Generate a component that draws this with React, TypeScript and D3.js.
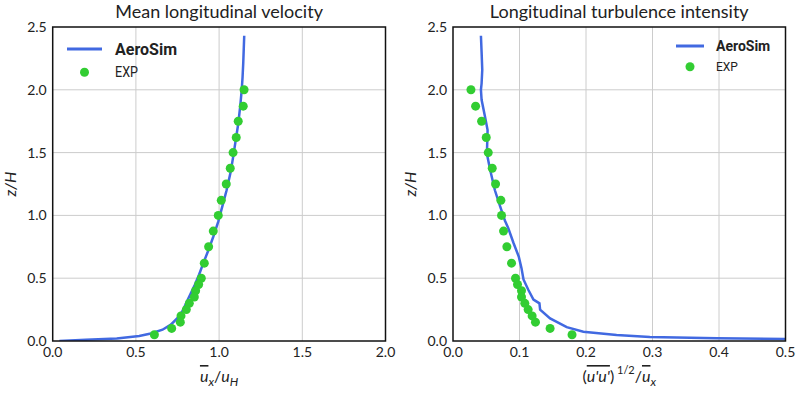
import React from 'react';
import * as d3 from 'd3';

// experimental heights (shared by both panels)
const expZ = [2.0, 1.87, 1.75, 1.62, 1.5, 1.375, 1.25, 1.12, 1.0, 0.875, 0.75, 0.62, 0.5, 0.45, 0.4, 0.35, 0.3, 0.25, 0.2, 0.15, 0.1, 0.05];
const expU = [1.15, 1.145, 1.115, 1.103, 1.084, 1.067, 1.043, 1.013, 0.995, 0.965, 0.937, 0.911, 0.893, 0.877, 0.859, 0.851, 0.821, 0.803, 0.771, 0.767, 0.715, 0.611];
const expI = [0.027, 0.034, 0.043, 0.05, 0.053, 0.059, 0.064, 0.072, 0.073, 0.076, 0.081, 0.088, 0.094, 0.097, 0.103, 0.103, 0.108, 0.113, 0.119, 0.124, 0.146, 0.179];

// AeroSim profiles
const simUz = [0, 0.01, 0.02, 0.04, 0.06, 0.09, 0.13, 0.19, 0.25, 0.31, 0.38, 0.45, 0.53, 0.62, 0.72, 0.83, 0.95, 1.0, 1.1, 1.2, 1.35, 1.47, 1.6, 1.73, 1.87, 2.0, 2.1, 2.21, 2.32, 2.43];
const simU = [0.04, 0.2, 0.385, 0.52, 0.59, 0.66, 0.71, 0.755, 0.785, 0.805, 0.83, 0.855, 0.88, 0.905, 0.935, 0.965, 0.995, 1.005, 1.025, 1.045, 1.07, 1.085, 1.1, 1.115, 1.127, 1.136, 1.141, 1.145, 1.148, 1.151];
const simIz = [2.43, 2.3, 2.16, 2.05, 2.0, 1.92, 1.79, 1.68, 1.49, 1.36, 1.2, 1.07, 0.96, 0.9, 0.78, 0.67, 0.58, 0.49, 0.41, 0.33, 0.3, 0.25, 0.18, 0.11, 0.074, 0.048, 0.032, 0.021, 0.016];
const simI = [0.042, 0.043, 0.044, 0.043, 0.042, 0.043, 0.048, 0.052, 0.051, 0.056, 0.063, 0.071, 0.078, 0.083, 0.091, 0.099, 0.103, 0.106, 0.113, 0.121, 0.13, 0.131, 0.146, 0.171, 0.196, 0.246, 0.296, 0.397, 0.5];

const yTicks = [0, 0.5, 1.0, 1.5, 2.0, 2.5];
const uTicks = [0, 0.5, 1.0, 1.5, 2.0];
const iTicks = [0, 0.1, 0.2, 0.3, 0.4, 0.5];

const FONT = 'Lato, "Open Sans", sans-serif';
const LEGEND_FONT = 'Roboto, "Liberation Sans", sans-serif';
const BLUE = '#4169E1';
const GREEN = '#32CD32';

type PanelProps = {
  x0: number;
  x1: number;
  title: string;
  xMax: number;
  xTicks: number[];
  simX: number[];
  simZ: number[];
  expX: number[];
  xLabel: React.ReactNode;
  legendX: number;
  big: boolean;
};

const TOP = 27;
const BOTTOM = 341;

const Panel = ({ x0, x1, title, xMax, xTicks, simX, simZ, expX, xLabel, legendX, big }: PanelProps) => {
  const x = d3.scaleLinear().domain([0, xMax]).range([x0, x1]);
  const y = d3.scaleLinear().domain([0, 2.5]).range([BOTTOM, TOP]);
  const line = d3.line<number>().x((d) => x(d)).y((_, i) => y(simZ[i]));
  const cx = (x0 + x1) / 2;
  const cy = (TOP + BOTTOM) / 2;

  return (
    <g>
      <text x={cx} y={18} textAnchor="middle" fontSize={18} fill="#222" fontFamily={FONT}>{title}</text>
      {/* grid */}
      {xTicks.slice(1, -1).map((t) => (
        <line key={'gx' + t} x1={x(t)} x2={x(t)} y1={TOP} y2={BOTTOM} stroke="#cccccc" strokeWidth={1} />
      ))}
      {yTicks.slice(1, -1).map((t) => (
        <line key={'gy' + t} x1={x0} x2={x1} y1={y(t)} y2={y(t)} stroke="#cccccc" strokeWidth={1} />
      ))}
      {/* tick labels */}
      {xTicks.map((t) => (
        <text key={'tx' + t} x={x(t)} y={357} textAnchor="middle" fontSize={14} fill="#222" fontFamily={FONT}>{t.toFixed(1)}</text>
      ))}
      {yTicks.map((t) => (
        <text key={'ty' + t} x={x0 - 6} y={y(t) + 5} textAnchor="end" fontSize={14} fill="#222" fontFamily={FONT}>{t.toFixed(1)}</text>
      ))}
      <text transform={`translate(${x0 - 37},${cy}) rotate(-90)`} textAnchor="middle" fontSize={16} fontStyle="italic" fill="#222" fontFamily={FONT}>z/H</text>
      <text x={cx} y={382} textAnchor="middle" fontSize={16} fill="#222" fontFamily={FONT}>{xLabel}</text>
      {/* data */}
      <defs>
        <clipPath id={'clip' + x0}>
          <rect x={x0} y={TOP} width={x1 - x0} height={BOTTOM - TOP} />
        </clipPath>
      </defs>
      <path d={line(simX) || ''} fill="none" stroke={BLUE} strokeWidth={2.5} clipPath={`url(#clip${x0})`} />
      {expX.map((v, i) => (
        <circle key={'p' + i} cx={x(v)} cy={y(expZ[i])} r={4.5} fill={GREEN} />
      ))}
      <rect x={x0} y={TOP} width={x1 - x0} height={BOTTOM - TOP} fill="none" stroke="#111" strokeWidth={1.5} />
      {/* legend */}
      {big ? (
        <g fontFamily={LEGEND_FONT}>
          <line x1={legendX} x2={legendX + 35} y1={49} y2={49} stroke={BLUE} strokeWidth={3} />
          <text x={legendX + 48} y={54.5} fontSize={16} fontWeight="bold" fill="#222">AeroSim</text>
          <circle cx={legendX + 17.5} cy={72.3} r={4.5} fill={GREEN} />
          <text x={legendX + 48} y={77} fontSize={14} fill="#222" transform={`translate(${(legendX + 48) * 0.1},0) scale(0.9,1)`}>EXP</text>
        </g>
      ) : (
        <g fontFamily={LEGEND_FONT}>
          <line x1={legendX} x2={legendX + 28} y1={46} y2={46} stroke={BLUE} strokeWidth={3} />
          <text x={legendX + 40} y={51} fontSize={14} fontWeight="bold" fill="#222">AeroSim</text>
          <circle cx={legendX + 14} cy={66.7} r={4.5} fill={GREEN} />
          <text x={legendX + 40} y={71} fontSize={12} fill="#222">EXP</text>
        </g>
      )}
    </g>
  );
};

const App = () => {
  const sub = { fontSize: 12, fontStyle: 'italic' as const };
  const uLabel = (
    <>
      <tspan fontStyle="italic" textDecoration="overline">u</tspan>
      <tspan {...sub} dy={4}>x</tspan>
      <tspan dy={-4}>/</tspan>
      <tspan fontStyle="italic">u</tspan>
      <tspan {...sub} dy={4}>H</tspan>
    </>
  );
  const iLabel = (
    <>
      <tspan>(</tspan>
      <tspan fontStyle="italic" textDecoration="overline">u'u'</tspan>
      <tspan>)</tspan>
      <tspan fontSize={11} dy={-8}> 1/2</tspan>
      <tspan dy={8}>/</tspan>
      <tspan fontStyle="italic" textDecoration="overline">u</tspan>
      <tspan {...sub} dy={4}>x</tspan>
    </>
  );
  return (
    <svg width={800} height={400} style={{ position: 'fixed', left: 0, top: 0, background: '#fff' }}>
      <rect width={800} height={400} fill="#fff" />
      <Panel x0={52.7} x1={385.5} title="Mean longitudinal velocity" xMax={2.0} xTicks={uTicks}
        simX={simU} simZ={simUz} expX={expU} xLabel={uLabel} legendX={67} big={true} />
      <Panel x0={453} x1={785.5} title="Longitudinal turbulence intensity" xMax={0.5} xTicks={iTicks}
        simX={simI} simZ={simIz} expX={expI} xLabel={iLabel} legendX={676} big={false} />
    </svg>
  );
};

export default App;
